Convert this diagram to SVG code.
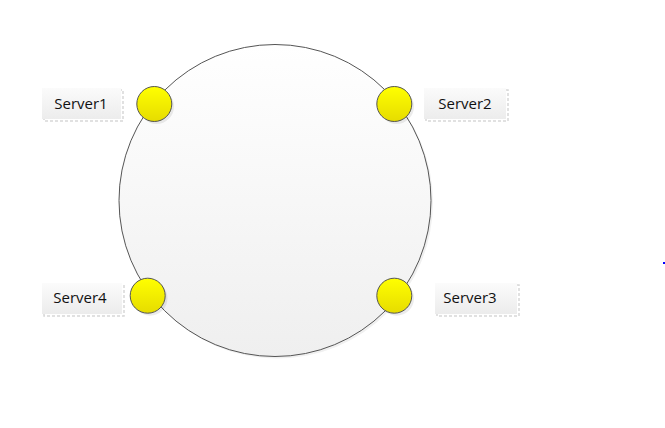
<svg xmlns="http://www.w3.org/2000/svg" width="665" height="428" viewBox="0 0 665 428">
<style>
.lbl{font-family:"Open Sans","Liberation Sans",sans-serif;font-size:15px;fill:#111;text-anchor:middle;dominant-baseline:central}
.box{fill:url(#boxg)}
.boxsh{fill:none;stroke:#d8d8d8;stroke-width:1.5;stroke-dasharray:3 2}
.srv{fill:url(#yel);stroke:#555;stroke-width:1}
.srvsh{fill:#000;opacity:0.08}
</style>
<defs>
<linearGradient id="ring" x1="0" y1="0" x2="0" y2="1">
<stop offset="0" stop-color="#ffffff"/>
<stop offset="1" stop-color="#efefef"/>
</linearGradient>
<linearGradient id="yel" x1="0" y1="0" x2="0" y2="1">
<stop offset="0" stop-color="#ffff00"/>
<stop offset="1" stop-color="#e6dc00"/>
</linearGradient>
<linearGradient id="boxg" x1="0" y1="0" x2="0" y2="1">
<stop offset="0" stop-color="#fbfbfb"/>
<stop offset="1" stop-color="#ececec"/>
</linearGradient>
</defs>
<rect width="665" height="428" fill="#fff"/>
<g id="ring-node">
<circle cx="277" cy="202.5" r="156" fill="#000" opacity="0.06"/>
<circle cx="275" cy="200.5" r="156" fill="url(#ring)" stroke="#555" stroke-width="1"/>
</g>
<g id="connectors"></g>
<g id="server1">
<rect class="boxsh" x="44" y="90" width="79" height="31"/>
<rect class="box" x="42" y="88" width="79" height="31"/>
<text class="lbl" x="81" y="103">Server1</text>
<circle class="srvsh" cx="156.5" cy="106.5" r="17.5"/>
<circle class="srv" cx="154.3" cy="104" r="17.5"/>
</g>
<g id="server2">
<rect class="boxsh" x="426" y="90" width="82" height="31"/>
<rect class="box" x="424" y="88" width="82" height="31"/>
<text class="lbl" x="465" y="103">Server2</text>
<circle class="srvsh" cx="396.5" cy="106.5" r="17.5"/>
<circle class="srv" cx="394.3" cy="104" r="17.5"/>
</g>
<g id="server4">
<rect class="boxsh" x="44" y="285" width="80" height="31"/>
<rect class="box" x="42" y="283" width="80" height="31"/>
<text class="lbl" x="80" y="297">Server4</text>
<circle class="srvsh" cx="150" cy="298.2" r="17.5"/>
<circle class="srv" cx="147.7" cy="295.7" r="17.5"/>
</g>
<g id="server3">
<rect class="boxsh" x="437" y="285" width="82" height="31"/>
<rect class="box" x="435" y="283" width="82" height="31"/>
<text class="lbl" x="470" y="297">Server3</text>
<circle class="srvsh" cx="396.5" cy="298.2" r="17.5"/>
<circle class="srv" cx="394.3" cy="295.7" r="17.5"/>
</g>
<rect x="663" y="262" width="2" height="2" fill="#0000ff"/>
</svg>
